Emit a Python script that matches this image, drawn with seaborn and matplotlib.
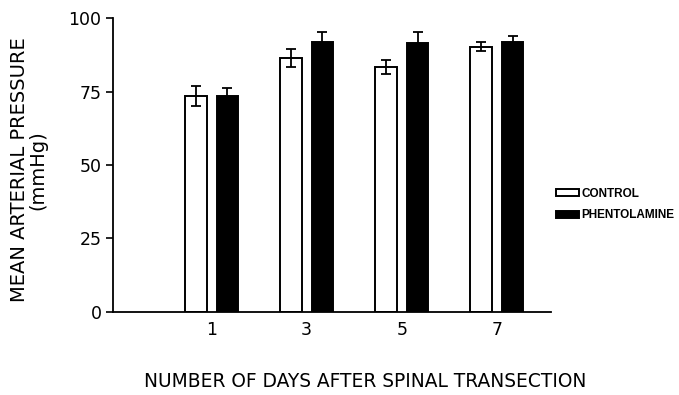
import matplotlib
matplotlib.use("Agg")
import matplotlib.pyplot as plt
import seaborn as sns
import pandas as pd
import numpy as np

days = ["1", "3", "5", "7"]
groups = ["CONTROL", "PHENTOLAMINE"]
control_mean = [73.6, 86.4, 83.4, 90.3]
control_se = [3.4, 3.0, 2.3, 1.6]
phent_mean = [73.4, 91.8, 91.7, 91.8]
phent_se = [2.9, 3.4, 3.5, 2.2]

df = pd.DataFrame({
    "day": days * 2,
    "group": [groups[0]] * 4 + [groups[1]] * 4,
    "value": control_mean + phent_mean,
})

sns.set_theme(style="white")
plt.rcParams['font.family'] = ['DejaVu Sans']
plt.rcParams['text.color'] = 'black'
plt.rcParams['xtick.color'] = 'black'
plt.rcParams['ytick.color'] = 'black'

fig = plt.figure(figsize=(6.79, 3.95), dpi=100)
ax = fig.add_axes([0.166, 0.211, 0.6455, 0.7427])

sns.barplot(data=df, x="day", y="value", hue="group", order=days,
            hue_order=groups, palette={"CONTROL": "white", "PHENTOLAMINE": "black"},
            edgecolor="black", linewidth=1.4, width=0.664, gap=0.316,
            errorbar=None, ax=ax)

# error bars at the bar centres given by the library
se_all = {groups[0]: control_se, groups[1]: phent_se}
for container, g in zip(ax.containers, groups):
    xs = [p.get_x() + p.get_width() / 2 for p in container.patches]
    ys = [p.get_height() for p in container.patches]
    ax.errorbar(xs, ys, yerr=se_all[g], fmt="none", ecolor="black",
                elinewidth=1.3, capsize=3.5, capthick=1.3, zorder=5)

ax.set_xlim(-1.04, 3.57)
ax.set_ylim(0, 100)
ax.set_yticks([0, 25, 50, 75, 100])
ax.tick_params(axis="y", direction="out", length=5, width=1.2, labelsize=12.5,
               left=True, pad=3, colors="black")
ax.tick_params(axis="x", length=0, labelsize=12.5, pad=7, colors="black")
for s in ["top", "right"]:
    ax.spines[s].set_visible(False)
for s in ["left", "bottom"]:
    ax.spines[s].set_linewidth(1.3)
    ax.spines[s].set_color("black")

ax.set_xlabel("")
ax.set_ylabel("")
fig.text(0.5376, 0.035, "NUMBER OF DAYS AFTER SPINAL TRANSECTION",
         ha="center", va="center", fontsize=13.4, color="black")
fig.text(0.042, 0.57, "MEAN ARTERIAL PRESSURE\n(mmHg)", rotation=90,
         ha="center", va="center", fontsize=14, linespacing=1.0,
         color="black")

h, l = ax.get_legend_handles_labels()
ax.legend(h, l, loc="center left", bbox_to_anchor=(0.8125, 0.482),
          bbox_transform=fig.transFigure, frameon=False,
          prop={"family": "Liberation Sans", "size": 8.5, "weight": "bold"},
          labelcolor="black",
          handlelength=1.95, handleheight=0.55, handletextpad=0.15,
          labelspacing=0.8, borderaxespad=0)

fig.savefig("out.png", dpi=100)
